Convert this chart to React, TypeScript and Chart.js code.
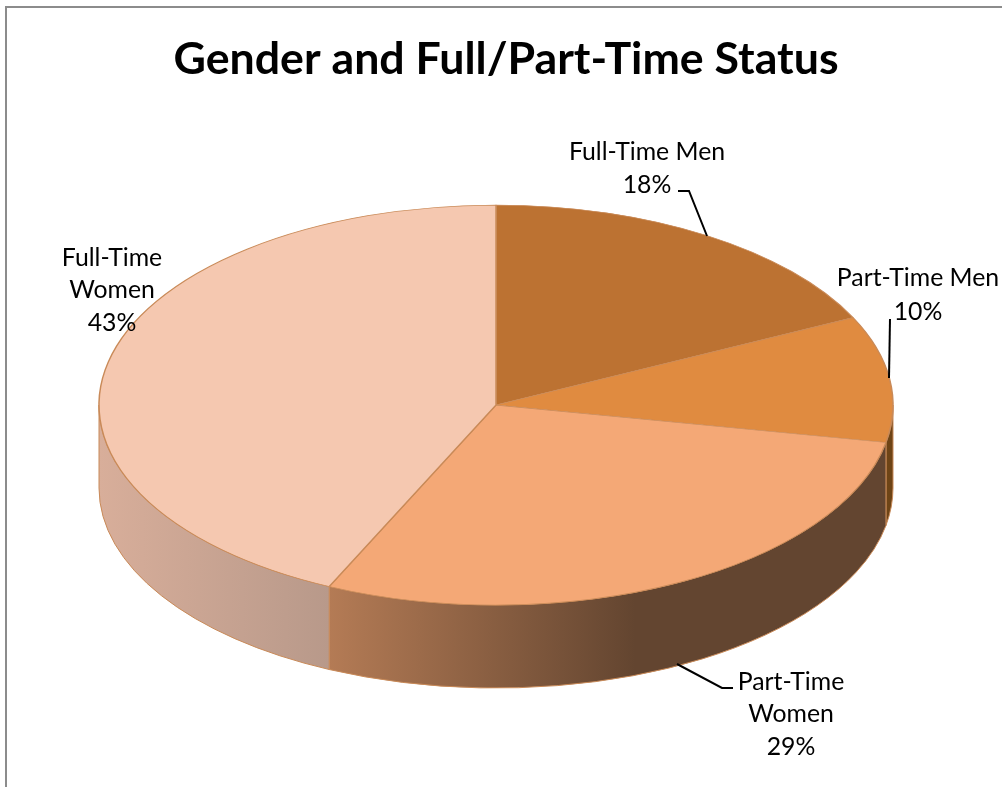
import React, { useEffect, useRef } from "react";
import { Chart, registerables } from "chart.js";

Chart.register(...registerables);

const categories = ["Full-Time Men", "Part-Time Men", "Part-Time Women", "Full-Time Women"];
const shares = [17.8, 10.2, 28.9, 43.1];
const titleText = "Gender and Full/Part-Time Status";
const topColors = ["#BC7232", "#E08B40", "#F4A876", "#F5C8B0"];
const sideFrom = ["#8A5422", "#6E4416", "#B47B55", "#D8AE9A"];
const sideTo = ["#6E4416", "#6E4416", "#634530", "#B8998A"];
const edgeColor = "#C98A58";
const labelLines = [
  ["Full-Time Men", "18%"],
  ["Part-Time Men", "10%"],
  ["Part-Time", "Women", "29%"],
  ["Full-Time", "Women", "43%"],
];
const labelCenterX = [647, 918, 791, 112];
const labelFirstY = [152, 278, 682, 258];
const labelStep = [33, 34, 32.5, 32.5];
const leaders = [
  [[678, 191], [689, 191], [707, 236]],
  [[890, 319], [889, 378]],
  [[677, 664], [722, 688], [733, 688]],
];

const SQUASH = 200 / 397;
const DEPTH = 83;
const RADIUS = 397;
const PIE_SHIFT_X = -10;
const LABEL_FONT = '24.8px Lato, "Open Sans", sans-serif';

const pie3d = {
  id: "pie3d",
  beforeDraw(chart: any) {
    const { ctx } = chart;
    ctx.save();
    ctx.fillStyle = "#ffffff";
    ctx.fillRect(0, 0, chart.width, chart.height);
    ctx.strokeStyle = "#8c8c8c";
    ctx.lineWidth = 2;
    ctx.beginPath();
    ctx.moveTo(6, chart.height);
    ctx.lineTo(6, 7);
    ctx.lineTo(chart.width, 7);
    ctx.stroke();
    ctx.restore();
  },
  beforeDatasetsDraw(chart: any) {
    const { ctx } = chart;
    const arcs = chart.getDatasetMeta(0).data;
    const arcX = arcs[0].x;
    const cx = arcX + PIE_SHIFT_X;
    const cy = arcs[0].y;
    const rx = arcs[0].outerRadius;
    const ry = rx * SQUASH;
    arcs.forEach((arc: any, i: number) => {
      const a0 = Math.max(arc.startAngle, 0);
      const a1 = Math.min(arc.endAngle, Math.PI);
      if (a1 <= a0) return;
      const x0 = cx + rx * Math.cos(a1);
      const x1 = cx + rx * Math.cos(a0);
      const g = ctx.createLinearGradient(x0, 0, x1, 0);
      g.addColorStop(0, sideFrom[i]);
      g.addColorStop(i === 2 ? 0.55 : 1, sideTo[i]);
      if (i === 2) g.addColorStop(1, sideTo[i]);
      ctx.beginPath();
      ctx.ellipse(cx, cy, rx, ry, 0, a0, a1, false);
      ctx.lineTo(cx + rx * Math.cos(a1), cy + ry * Math.sin(a1) + DEPTH);
      ctx.ellipse(cx, cy + DEPTH, rx, ry, 0, a1, a0, true);
      ctx.closePath();
      ctx.fillStyle = g;
      ctx.fill();
      ctx.strokeStyle = edgeColor;
      ctx.lineWidth = 1;
      ctx.stroke();
    });
    ctx.save();
    ctx.translate(cx, cy);
    ctx.scale(1, SQUASH);
    ctx.translate(-arcX, -cy);
  },
  afterDatasetsDraw(chart: any) {
    chart.ctx.restore();
  },
  afterDraw(chart: any) {
    const { ctx } = chart;
    ctx.save();
    ctx.strokeStyle = "#000000";
    ctx.lineWidth = 2;
    leaders.forEach((pts) => {
      ctx.beginPath();
      pts.forEach(([x, y], i) => (i ? ctx.lineTo(x, y) : ctx.moveTo(x, y)));
      ctx.stroke();
    });
    ctx.fillStyle = "#000000";
    ctx.font = LABEL_FONT;
    ctx.textAlign = "center";
    ctx.textBaseline = "middle";
    labelLines.forEach((lines, i) => {
      lines.forEach((line, j) => {
        ctx.fillText(line, labelCenterX[i], labelFirstY[i] + j * labelStep[i]);
      });
    });
    ctx.restore();
  },
};

export default function App() {
  const ref = useRef<HTMLCanvasElement>(null);
  useEffect(() => {
    const chart = new Chart(ref.current!, {
      type: "pie",
      data: {
        labels: categories,
        datasets: [
          {
            data: shares,
            backgroundColor: topColors,
            borderColor: edgeColor,
            borderWidth: 1.5,
            radius: RADIUS,
            clip: false,
          } as any,
        ],
      },
      options: {
        responsive: false,
        animation: false,
        layout: { padding: { left: 10, right: 0, bottom: 63.6 } },
        plugins: {
          legend: { display: false },
          tooltip: { enabled: false },
          title: {
            display: true,
            text: titleText,
            color: "#000000",
            font: { family: "Lato, 'Open Sans', sans-serif", size: 44.7, weight: "bold", lineHeight: 1.2 },
            padding: { top: 33, bottom: 0 },
          },
        },
      },
      plugins: [pie3d],
    });
    return () => chart.destroy();
  }, []);
  return (
    <canvas
      ref={ref}
      width={1002}
      height={787}
      style={{ position: "absolute", left: 0, top: 0, display: "block" }}
    />
  );
}
